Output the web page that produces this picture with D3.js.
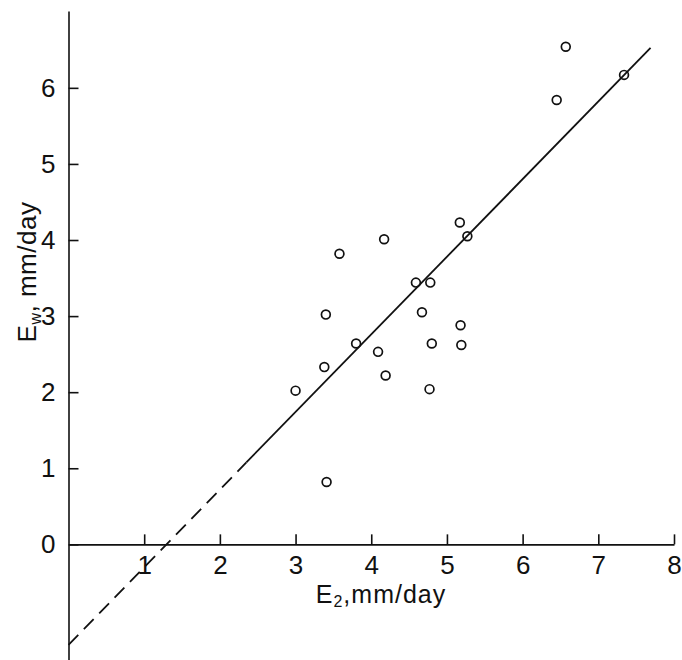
<!DOCTYPE html>
<html>
<head>
<meta charset="utf-8">
<script src="https://cdn.jsdelivr.net/npm/d3@7"></script>
<style>
  body { margin: 0; background: #fff; }
  text { font-family: "Liberation Sans", Arial, sans-serif; fill: #111; }
</style>
</head>
<body>
<div id="chart"></div>
<script>
const width = 682;
const height = 660;

// observed evaporation pairs (E2, Ew), mm/day
const e2Values = [3.0, 3.38, 3.40, 3.41, 3.58, 3.80, 4.09, 4.19, 4.17, 4.59, 4.78, 4.67, 4.80, 4.77, 5.17, 5.27, 5.18, 5.19, 6.57, 6.45, 7.34];
const ewValues = [2.02, 2.33, 3.02, 0.82, 3.82, 2.64, 2.53, 2.22, 4.01, 3.44, 3.44, 3.05, 2.64, 2.04, 4.23, 4.05, 2.88, 2.62, 6.54, 5.84, 6.17];

const xTicks = [1, 2, 3, 4, 5, 6, 7, 8];
const yTicks = [0, 1, 2, 3, 4, 5, 6];

// fitted line Ew = slope * E2 + intercept
const fitSlope = 1.02;
const fitIntercept = -1.32;
const dashedSpan = [0, 2.35];
const solidSpan = [2.35, 7.69];

const svg = d3.select("#chart")
  .append("svg")
  .attr("width", width)
  .attr("height", height);

const x = d3.scaleLinear().domain([0, 8]).range([68.5, 674]);
const y = d3.scaleLinear().domain([-1.52, 7.01]).range([660, 11]);

const xAxis = d3.axisBottom(x)
  .tickValues(xTicks)
  .tickFormat(d3.format("d"))
  .tickSize(-10)
  .tickSizeOuter(0)
  .tickPadding(11);

const yAxis = d3.axisLeft(y)
  .tickValues(yTicks)
  .tickFormat(d3.format("d"))
  .tickSize(-10)
  .tickSizeOuter(0)
  .tickPadding(13);

svg.append("g")
  .attr("transform", `translate(0,${y(0)})`)
  .call(xAxis)
  .call(g => g.selectAll("text").attr("font-size", 26).attr("font-family", null).attr("fill", "#111"));

svg.append("g")
  .attr("transform", `translate(${x(0)},0)`)
  .call(yAxis)
  .call(g => g.selectAll("text").attr("font-size", 26).attr("font-family", null).attr("fill", "#111"));

svg.selectAll(".domain, .tick line")
  .attr("stroke", "#111")
  .attr("stroke-width", 1.6);

// Regression line: dashed extrapolation, then solid
const fit = v => fitSlope * v + fitIntercept;

svg.append("line")
  .attr("x1", x(dashedSpan[0])).attr("y1", y(fit(dashedSpan[0])))
  .attr("x2", x(dashedSpan[1])).attr("y2", y(fit(dashedSpan[1])))
  .attr("stroke", "#111")
  .attr("stroke-width", 1.8)
  .attr("stroke-dasharray", "14,8");

svg.append("line")
  .attr("x1", x(solidSpan[0])).attr("y1", y(fit(solidSpan[0])))
  .attr("x2", x(solidSpan[1])).attr("y2", y(fit(solidSpan[1])))
  .attr("stroke", "#111")
  .attr("stroke-width", 1.8);

// Points
svg.selectAll(".pt")
  .data(e2Values.map((v, i) => [v, ewValues[i]]))
  .enter().append("circle")
  .attr("class", "pt")
  .attr("cx", d => x(d[0]))
  .attr("cy", d => y(d[1]))
  .attr("r", 4.4)
  .attr("fill", "none")
  .attr("stroke", "#111")
  .attr("stroke-width", 1.7);

// Axis titles
const xTitle = svg.append("text")
  .attr("x", 381)
  .attr("y", 603)
  .attr("text-anchor", "middle")
  .attr("letter-spacing", 1)
  .attr("font-size", 25);
xTitle.append("tspan").text("E");
xTitle.append("tspan").attr("font-size", 16).attr("dy", 4).text("2");
xTitle.append("tspan").attr("dy", -4).text(",mm/day");

const yTitle = svg.append("text")
  .attr("transform", "translate(36,272) rotate(-90)")
  .attr("text-anchor", "middle")
  .attr("letter-spacing", 0.5)
  .attr("font-size", 26);
yTitle.append("tspan").text("E");
yTitle.append("tspan").attr("font-size", 16).attr("dy", 5).text("w");
yTitle.append("tspan").attr("dy", -5).text(", mm/day");
</script>
</body>
</html>
